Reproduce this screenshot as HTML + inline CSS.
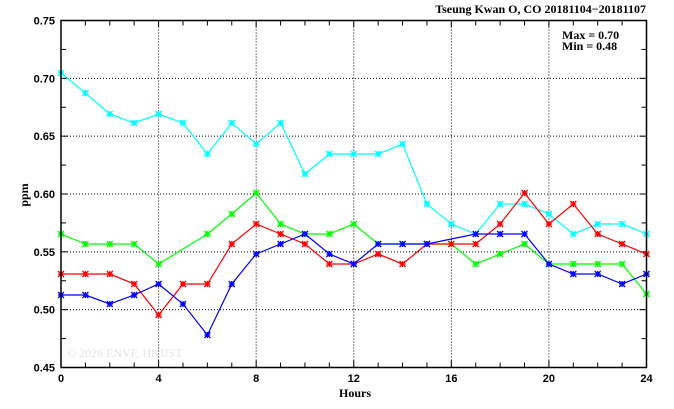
<!DOCTYPE html>
<html><head><meta charset="utf-8"><style>
html,body{margin:0;padding:0;background:#fff;width:674px;height:409px;overflow:hidden}
svg{display:block}
text{font-family:"Liberation Sans",sans-serif;font-size:11px;font-weight:bold;fill:#000}
.s{font-family:"Liberation Serif",serif;font-weight:bold;font-size:12px}
</style></head><body>
<svg id="c" width="674" height="409" xmlns="http://www.w3.org/2000/svg">
<text x="67" y="357" style="font-family:'Liberation Serif',serif;font-size:12px;font-weight:normal;fill:#e4e4e4">© 2026  ENVF, HKUST</text>
<g id="grid" stroke="#000" stroke-width="1" stroke-dasharray="1,2"></g>
<g id="ticks" stroke="#000" stroke-width="1"></g>
<g id="series"></g>
<rect x="61" y="20.5" width="585.5" height="347" fill="none" stroke="#000" stroke-width="1.5"/>
<g id="labels"></g>
<text class="s" x="646" y="13" text-anchor="end">Tseung Kwan O, CO 20181104−20181107</text>
<text class="s" x="562" y="39">Max = 0.70</text>
<text class="s" x="562" y="50">Min = 0.48</text>
<text class="s" x="355" y="397" text-anchor="middle">Hours</text>
<text class="s" transform="translate(28,195) rotate(-90)" text-anchor="middle">ppm</text>
</svg>
<script>
const L=61,R=646.5,T=20.5,B=367.5,ns="http://www.w3.org/2000/svg";
const X=h=>L+(R-L)*h/24;
function el(p,t,a,txt){const e=document.createElementNS(ns,t);for(const k in a)e.setAttribute(k,a[k]);if(txt!=null)e.textContent=txt;document.getElementById(p).appendChild(e);return e;}
for(let h=4;h<24;h+=4)el("grid","line",{x1:X(h),y1:T,x2:X(h),y2:B});
const yl=["0.75","0.70","0.65","0.60","0.55","0.50","0.45"];
for(let i=1;i<6;i++){const y=T+(B-T)*i/6;el("grid","line",{x1:L,y1:y,x2:R,y2:y});}
for(let h=1;h<24;h++){const x=X(h),l=h%4?5:7;el("ticks","line",{x1:x,y1:B,x2:x,y2:B-l});el("ticks","line",{x1:x,y1:T,x2:x,y2:T+l});}
for(let i=1;i<12;i++){const y=T+(B-T)*i/12,l=i%2?5:7;el("ticks","line",{x1:L,y1:y,x2:L+l,y2:y});el("ticks","line",{x1:R,y1:y,x2:R-l,y2:y});}
yl.forEach((s,i)=>el("labels","text",{x:55,y:T+(B-T)*i/6+4,"text-anchor":"end"},s));
for(let h=0;h<=24;h+=4)el("labels","text",{x:X(h),y:382,"text-anchor":"middle"},String(h));
const S={
"#00ffff":[73,93,114,123,114,123,154,123,144,123,174,154,154,154,144,204,224,234,204,204,214,234,224,224,234],
"#00ff00":[234,244,244,244,264,null,234,214,193,224,234,234,224,244,244,244,244,264,254,244,264,264,264,264,294],
"#ff0000":[274,274,274,284,315,284,284,244,224,234,244,264,264,254,264,244,244,244,224,193,224,204,234,244,254],
"#0000ff":[295,295,304,295,284,304,335,284,254,244,234,254,264,244,244,244,null,234,234,234,264,274,274,284,274]};
for(const c in S){const v=S[c];const pts=[];v.forEach((y,h)=>{if(y!=null)pts.push(X(h).toFixed(1)+","+y)});
el("series","polyline",{points:pts.join(" "),fill:"none",stroke:c,"stroke-width":1.2});
v.forEach((y,h)=>{if(y==null)return;const x=X(h),d=3;
el("series","path",{d:`M${x-d},${y-d}L${x+d},${y+d}M${x-d},${y+d}L${x+d},${y-d}M${x-d},${y}L${x+d},${y}M${x},${y-d}L${x},${y+d}`,stroke:c,"stroke-width":1.3,fill:"none"});});}
</script>
</body></html>
